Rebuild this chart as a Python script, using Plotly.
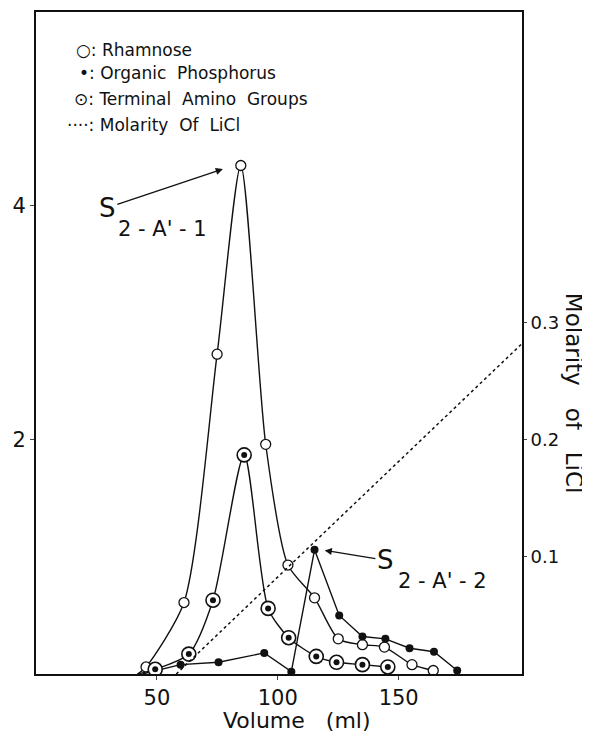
import plotly.graph_objects as go

# ---- data ----
rham_x = [45.5, 61.2, 74.9, 84.7, 95.0, 104.2, 115.2, 125.0, 135.0, 144.1, 155.5, 164.3]
rham_y = [0.06, 0.61, 2.73, 4.34, 1.96, 0.93, 0.65, 0.30, 0.25, 0.23, 0.08, 0.03]

phos_x = [59.8, 75.5, 94.4, 105.6, 115.2, 125.4, 135.0, 144.5, 154.5, 164.6, 174.2]
phos_y = [0.08, 0.10, 0.18, 0.02, 1.06, 0.50, 0.32, 0.30, 0.22, 0.19, 0.03]

amino_x = [49.3, 63.2, 73.2, 86.1, 96.0, 104.5, 115.9, 124.3, 135.0, 145.5]
amino_y = [0.04, 0.17, 0.63, 1.87, 0.56, 0.31, 0.15, 0.10, 0.08, 0.06]

start_x = 42.0           # curves rise from the baseline here
licl_x = [58, 201]
licl_y = [0.0, 0.282]

x_ticks = [50, 100, 150]
y_ticks = [2, 4]
y2_ticks = [0.1, 0.2, 0.3]
y2_labels = ["0.1", "0.2", "0.3"]

FONT = "DejaVu Sans"
BLACK = "#111111"

# plot-area geometry (reference pixels) used only to place free text
PL, PR, PT, PB = 36, 522, 10, 674


def px(xpix):
    return (xpix - PL) / (PR - PL)


def py(ypix):
    return (PB - ypix) / (PB - PT)


fig = go.Figure()

# curves
fig.add_trace(go.Scatter(x=[start_x] + rham_x, y=[0] + rham_y, mode="lines",
                         line=dict(color=BLACK, width=1.4, shape="spline", smoothing=0.7),
                         showlegend=False, hoverinfo="skip"))
fig.add_trace(go.Scatter(x=[start_x] + amino_x, y=[0] + amino_y, mode="lines",
                         line=dict(color=BLACK, width=1.4, shape="spline", smoothing=0.7),
                         showlegend=False, hoverinfo="skip"))
fig.add_trace(go.Scatter(x=[start_x + 2] + phos_x, y=[0] + phos_y, mode="lines",
                         line=dict(color=BLACK, width=1.4),
                         showlegend=False, hoverinfo="skip"))
# LiCl gradient (right axis)
fig.add_trace(go.Scatter(x=licl_x, y=licl_y, mode="lines", yaxis="y2",
                         line=dict(color=BLACK, width=1.5, dash="dot"),
                         showlegend=False, hoverinfo="skip"))

# markers
fig.add_trace(go.Scatter(x=rham_x, y=rham_y, mode="markers", name="Rhamnose",
                         marker=dict(symbol="circle", size=10, color="white",
                                     line=dict(color=BLACK, width=1.3)),
                         showlegend=False))
fig.add_trace(go.Scatter(x=phos_x, y=phos_y, mode="markers", name="Organic Phosphorus",
                         marker=dict(symbol="circle", size=8, color=BLACK),
                         showlegend=False))
fig.add_trace(go.Scatter(x=amino_x, y=amino_y, mode="markers", name="Terminal Amino Groups",
                         marker=dict(symbol="circle", size=14, color="white",
                                     line=dict(color=BLACK, width=1.6)),
                         showlegend=False))
fig.add_trace(go.Scatter(x=amino_x, y=amino_y, mode="markers", hoverinfo="skip",
                         marker=dict(symbol="circle", size=6, color=BLACK),
                         showlegend=False))

# legend as text block
legend_rows = ["○: Rhamnose", "•: Organic  Phosphorus", "⊙: Terminal  Amino  Groups",
               "····: Molarity  Of  LiCl"]
legend_ypix = [48, 71, 97, 123]
legend_xpix = [74, 77, 72, 65]
for txt, lx, ly in zip(legend_rows, legend_xpix, legend_ypix):
    fig.add_annotation(xref="paper", yref="paper", x=px(lx), y=py(ly),
                       xanchor="left", yanchor="middle", showarrow=False, text=txt,
                       font=dict(family=FONT, size=17, color=BLACK))

# peak labels: "S" carries the arrow, subscript placed beside it
fig.add_annotation(x=77.3, y=4.31, ax=29.5, ay=3.98, xref="x", yref="y", axref="x", ayref="y",
                   text="S", showarrow=True, arrowhead=2, arrowsize=1.1, arrowwidth=1.3,
                   arrowcolor=BLACK, font=dict(family=FONT, size=26, color=BLACK))
fig.add_annotation(x=33.0, y=3.80, xref="x", yref="y", xanchor="left", yanchor="middle",
                   showarrow=False, text="2 - A' - 1",
                   font=dict(family=FONT, size=21, color=BLACK))
fig.add_annotation(x=119.4, y=1.055, ax=144.5, ay=0.97, xref="x", yref="y", axref="x", ayref="y",
                   text="S", showarrow=True, arrowhead=2, arrowsize=1.1, arrowwidth=1.3,
                   arrowcolor=BLACK, font=dict(family=FONT, size=26, color=BLACK))
fig.add_annotation(x=149.0, y=0.79, xref="x", yref="y", xanchor="left", yanchor="middle",
                   showarrow=False, text="2 - A' - 2",
                   font=dict(family=FONT, size=21, color=BLACK))

# x-axis title (sits right of centre in the reference)
fig.add_annotation(xref="paper", yref="paper", x=px(297), y=py(721),
                   xanchor="center", yanchor="middle", showarrow=False,
                   text="Volume   (ml)", font=dict(family=FONT, size=22, color=BLACK))

# right axis title, reading top to bottom
fig.add_annotation(xref="paper", yref="paper", x=px(574), y=py(392),
                   xanchor="center", yanchor="middle",
                   textangle=90, showarrow=False, text="Molarity   of   LiCl",
                   font=dict(family=FONT, size=23, color=BLACK))

fig.update_layout(
    width=582, height=730,
    margin=dict(l=28, r=68, t=2, b=64),
    paper_bgcolor="white", plot_bgcolor="white",
    font=dict(family=FONT, color=BLACK),
    xaxis=dict(range=[0, 201], tickvals=x_ticks, ticks="outside", ticklen=4,
               showline=True, linecolor=BLACK, linewidth=2, mirror=True,
               showgrid=False, zeroline=False, tickfont=dict(size=21)),
    yaxis=dict(range=[0, 5.65], tickvals=y_ticks, ticks="outside", ticklen=4,
               showline=True, linecolor=BLACK, linewidth=2,
               showgrid=False, zeroline=False, tickfont=dict(size=21)),
    yaxis2=dict(range=[0, 0.565], tickvals=y2_ticks, ticktext=y2_labels,
                overlaying="y", side="right", ticks="outside", ticklen=3,
                showline=True, linecolor=BLACK, linewidth=2,
                showgrid=False, zeroline=False, tickfont=dict(size=18)),
)

fig.write_html("out.html")
